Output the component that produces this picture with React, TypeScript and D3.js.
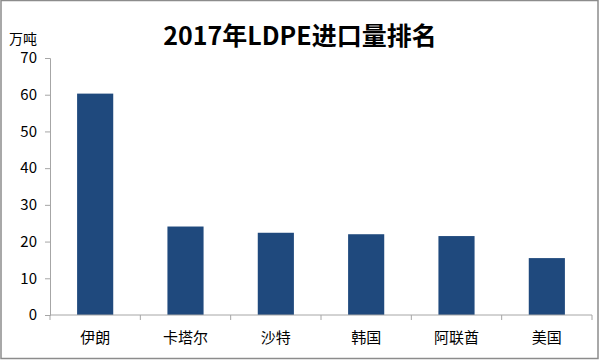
import React, { useEffect, useRef } from 'react';
import * as d3 from 'd3';

// data
const countries = ['伊朗', '卡塔尔', '沙特', '韩国', '阿联酋', '美国'];
const imports = [60.3, 24.1, 22.4, 22.0, 21.5, 15.5];
const yTicks = [0, 10, 20, 30, 40, 50, 60, 70];
const title = '2017年LDPE进口量排名';
const unit = '万吨';

const W = 600;
const H = 360;
const FONT = '"Noto Sans CJK SC", "Noto Sans", sans-serif';

const App = () => {
    const ref = useRef<SVGSVGElement>(null);

    useEffect(() => {
        const svg = d3.select(ref.current);
        svg.selectAll('*').remove();

        const margin = { top: 58, right: 8, bottom: 45, left: 50 };
        const width = W - margin.left - margin.right;
        const height = H - margin.top - margin.bottom;

        // frame
        svg.append('rect')
            .attr('x', 1).attr('y', 0.5)
            .attr('width', W - 3).attr('height', H - 2)
            .attr('fill', '#fff')
            .attr('stroke', '#8c8c8c')
            .attr('stroke-width', 1.5);

        svg.append('text')
            .attr('x', W / 2)
            .attr('y', 45)
            .attr('text-anchor', 'middle')
            .attr('font-family', FONT)
            .attr('font-weight', 'bold')
            .attr('font-size', 25)
            .attr('fill', '#000')
            .text(title);

        svg.append('text')
            .attr('x', 9)
            .attr('y', 44)
            .attr('font-family', FONT)
            .attr('font-size', 14)
            .attr('fill', '#000')
            .text(unit);

        const g = svg.append('g')
            .attr('transform', `translate(${margin.left},${margin.top})`);

        const x = d3.scaleBand()
            .domain(countries)
            .range([0, width])
            .paddingInner(0.6)
            .paddingOuter(0.3);

        const y = d3.scaleLinear()
            .domain([0, 70])
            .range([height, 0]);

        // y axis
        const yAxis = g.append('g')
            .call(d3.axisLeft(y).tickValues(yTicks).tickSize(5).tickPadding(8));
        yAxis.selectAll('path, line').attr('stroke', '#a6a6a6');
        yAxis.selectAll('text')
            .attr('font-family', FONT)
            .attr('font-size', 15)
            .attr('fill', '#000');

        // bars
        g.selectAll('.bar')
            .data(imports)
            .enter()
            .append('rect')
            .attr('class', 'bar')
            .attr('x', (d, i) => x(countries[i])!)
            .attr('y', d => y(d))
            .attr('width', x.bandwidth())
            .attr('height', d => height - y(d))
            .attr('fill', '#1F497D');

        // x axis with ticks between categories
        const xAxis = g.append('g')
            .attr('transform', `translate(0,${height})`);
        xAxis.append('line')
            .attr('x1', 0).attr('x2', width)
            .attr('stroke', '#a6a6a6');
        const edges = d3.range(countries.length + 1).map(i => i * x.step());
        xAxis.selectAll('.tick-mark')
            .data(edges)
            .enter()
            .append('line')
            .attr('x1', d => d).attr('x2', d => d)
            .attr('y1', 0).attr('y2', 5)
            .attr('stroke', '#a6a6a6');
        xAxis.selectAll('.cat')
            .data(countries)
            .enter()
            .append('text')
            .attr('x', d => x(d)! + x.bandwidth() / 2)
            .attr('y', 28)
            .attr('text-anchor', 'middle')
            .attr('font-family', FONT)
            .attr('font-size', 15)
            .attr('fill', '#000')
            .text(d => d);
    }, []);

    return (
        <svg
            ref={ref}
            width={W}
            height={H}
            style={{ position: 'absolute', left: 0, top: 0 }}
        />
    );
};

export default App;
